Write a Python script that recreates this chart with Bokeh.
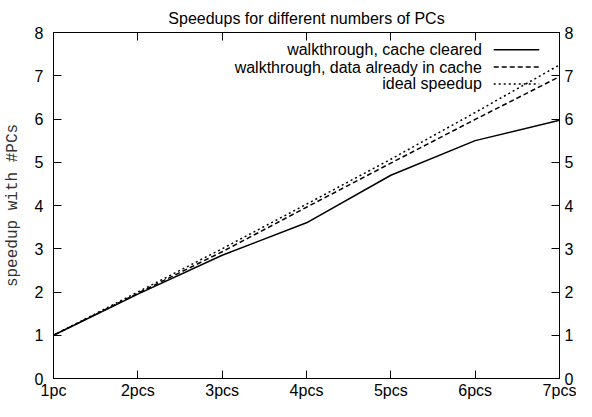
from bokeh.plotting import figure
from bokeh.models import Range1d, LinearAxis, FixedTicker, Label, Arrow
from bokeh.embed import file_html
from bokeh.resources import INLINE

categories = ["1pc", "2pcs", "3pcs", "4pcs", "5pcs", "6pcs", "7pcs"]
cache_cleared = [1.0, 1.95, 2.85, 3.6, 4.7, 5.5, 5.97]
cache_warm = [1.0, 1.97, 2.93, 3.96, 4.98, 5.99, 6.98]
ideal = [1.0, 2.0, 3.0, 4.03, 5.07, 6.15, 7.25]
y_ticks = [0, 1, 2, 3, 4, 5, 6, 7, 8]
series_labels = ["walkthrough, cache cleared",
                 "walkthrough, data already in cache",
                 "ideal speedup"]
series_dash = ["solid", "5 3", "2 3"]

x = list(range(len(categories)))
FONT = "Liberation Sans"
FS = "16px"

p = figure(width=576, height=401, output_backend="svg", toolbar_location=None,
           x_range=Range1d(0, len(categories) - 1), y_range=Range1d(0, 8),
           min_border_left=49, min_border_right=14, min_border_top=32,
           min_border_bottom=22, x_axis_location=None, y_axis_location=None,
           title="Speedups for different numbers of PCs")
p.title.align = "center"
p.title.text_font = FONT
p.title.text_font_size = FS
p.title.text_font_style = "normal"
p.title.text_color = "black"
p.title.standoff = 12
p.grid.visible = False
p.outline_line_color = "black"
p.outline_line_width = 1
p.background_fill_color = "white"
p.border_fill_color = "white"

overrides = {i: c for i, c in enumerate(categories)}

def style(ax):
    ax.major_tick_in = 8
    ax.major_tick_out = 0
    ax.minor_tick_line_color = None
    ax.axis_line_color = "black"
    ax.major_tick_line_color = "black"
    ax.major_label_text_font = FONT
    ax.major_label_text_font_size = FS
    ax.major_label_text_color = "black"

xb = LinearAxis(ticker=FixedTicker(ticks=x), major_label_overrides=overrides)
style(xb)
xb.major_label_standoff = 3
p.add_layout(xb, "below")

# mirrored ticks on top, without labels
xt = LinearAxis(ticker=FixedTicker(ticks=x),
                major_label_overrides={i: "" for i in x})
style(xt)
xt.major_label_standoff = 0
p.add_layout(xt, "above")

yl = LinearAxis(ticker=FixedTicker(ticks=y_ticks), axis_label="speedup with #PCs")
style(yl)
yl.major_label_standoff = 10
yl.axis_label_text_font = "Liberation Mono"
yl.axis_label_text_font_size = "16px"
yl.axis_label_text_font_style = "normal"
yl.axis_label_text_color = "#333333"
yl.axis_label_standoff = 10
p.add_layout(yl, "left")
yr = LinearAxis(ticker=FixedTicker(ticks=y_ticks))
style(yr)
yr.major_label_standoff = 5
p.add_layout(yr, "right")

for ys, dash in zip([cache_cleared, cache_warm, ideal], series_dash):
    p.line(x, ys, line_color="black", line_width=1.5, line_dash=dash)

# legend (label left, sample right, as in gnuplot)
leg_text_x = 5.08
leg_line_x0, leg_line_x1 = 5.22, 5.76
leg_y = [7.6, 7.2, 6.81]
for lab, dash, ly in zip(series_labels, series_dash, leg_y):
    p.add_layout(Label(x=leg_text_x, y=ly, text=lab, text_align="right",
                       text_baseline="middle", text_font=FONT,
                       text_font_size=FS, text_color="black"))
    p.add_layout(Arrow(end=None, x_start=leg_line_x0, y_start=ly,
                       x_end=leg_line_x1, y_end=ly, line_color="black",
                       line_width=1.5, line_dash=dash))

open("out.html", "w").write(file_html(p, INLINE))
